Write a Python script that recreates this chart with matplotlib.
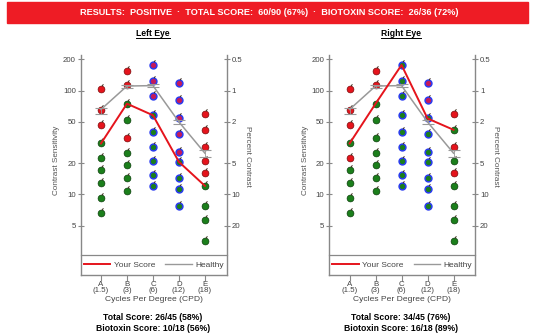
import numpy as np
import matplotlib
matplotlib.use('Agg')
import matplotlib.pyplot as plt
from matplotlib.path import Path
from matplotlib.lines import Line2D
from matplotlib.patches import Rectangle

plt.rcParams['font.family'] = ['Liberation Sans', 'DejaVu Sans']

# spatial frequency columns
columns = ['A', 'B', 'C', 'D', 'E']
cpd = ['1.5', '3', '6', '12', '18']
biotoxin_cols = ['C', 'D']

# contrast sensitivity of each patch in a column (top to bottom)
levels = {
    'A': [103, 65, 47, 31, 22.3, 17.1, 12.8, 9.2, 6.7],
    'B': [155, 113, 75, 52, 35, 25.3, 19.4, 14.5, 10.7],
    'C': [177, 124, 88, 58, 40, 28.5, 21.2, 15.4, 12.1],
    'D': [118, 81.5, 54, 38, 25.8, 20.6, 14.5, 11.3, 7.8],
    'E': [60, 42, 28.5, 21.2, 16.2, 12.1, 7.8, 5.7, 3.55],
}

# 1 = patch seen (green), 0 = missed (red)
left_seen = {
    'A': [0, 0, 0, 1, 1, 1, 1, 1, 1],
    'B': [0, 0, 1, 1, 0, 1, 1, 1, 1],
    'C': [0, 0, 0, 1, 1, 1, 1, 1, 1],
    'D': [0, 0, 0, 0, 0, 1, 1, 1, 1],
    'E': [0, 0, 0, 0, 0, 1, 1, 1, 1],
}
right_seen = {
    'A': [0, 0, 0, 1, 0, 1, 1, 1, 1],
    'B': [0, 0, 1, 1, 1, 1, 1, 1, 1],
    'C': [1, 1, 1, 1, 1, 1, 1, 1, 1],
    'D': [0, 0, 1, 1, 1, 1, 1, 1, 1],
    'E': [0, 1, 0, 1, 0, 1, 1, 1, 1],
}

left_score = [31, 75, 58, 20.6, 12.1]
right_score = [31, 75, 177, 54, 42]

healthy = [66, 111, 112, 50, 25]
healthy_lo = [60, 107, 108, 48, 23]
healthy_hi = [68, 114, 116, 52, 27]

banner = 'RESULTS:  POSITIVE  \u00b7  TOTAL SCORE:  60/90 (67%)  \u00b7  BIOTOXIN SCORE:  26/36 (72%)'
left_text = ['Total Score: 26/45 (58%)', 'Biotoxin Score: 10/18 (56%)']
right_text = ['Total Score: 34/45 (76%)', 'Biotoxin Score: 16/18 (89%)']

cs_ticks = [200, 100, 50, 20, 10, 5]
pct_labels = ['0.5', '1', '2', '5', '10', '20']

RED = '#e5141c'
GREEN = '#1b7f1b'
BLUE = '#2a3cf0'
GRAY = '#999999'
AXC = '#888888'
TXT = '#444444'

# little "stem" drawn at the upper right of every dot
stem = Path([(-1.5, -1.5), (0.15, 0.95), (0.55, 1.5)],
            [Path.MOVETO, Path.MOVETO, Path.LINETO])

W, H = 535, 336
fig = plt.figure(figsize=(W / 100, H / 100), dpi=100)

fig.patches.append(Rectangle((7 / W, 1 - 22.5 / H), 521 / W, 20.5 / H,
                             transform=fig.transFigure, color='#ee1c25', zorder=0))
fig.text(0.503, 1 - 12.5 / H, banner, color='white', fontsize=6.6,
         fontweight='bold', ha='center', va='center')


def draw_eye(x0, seen, score, title, footer, xc):
    ax = fig.add_axes([x0 / W, 1 - 275 / H, 145.8 / W, 220 / H])
    ax.set_yscale('log')
    ax.set_ylim(1.674, 221)
    ax.set_xlim(-0.78, 4.83)
    xs = np.arange(len(columns))

    for i, c in enumerate(columns):
        for v, s in zip(levels[c], seen[c]):
            if c in biotoxin_cols:
                fill = GREEN if s else '#c41a5a'
                edge, ew = BLUE, 1.1
            else:
                fill = GREEN if s else RED
                edge, ew = ('#0b3f0b' if s else '#7a0a0a'), 0.5
            ax.plot(i, v, 'o', ms=4.9, mfc=fill, mec=edge, mew=ew, zorder=3)
            ax.plot(i, v, marker=stem, ms=7.5, mfc='none', mec='#3a2a1a', mew=0.7,
                    linestyle='none', zorder=3)

    yerr = [np.array(healthy) - np.array(healthy_lo), np.array(healthy_hi) - np.array(healthy)]
    ax.errorbar(xs, healthy, yerr=yerr, color=GRAY, lw=1.1, elinewidth=0.6,
                capsize=4, capthick=0.8, zorder=4)
    ax.plot(xs, score, color=RED, lw=1.4, zorder=5)

    for sp in ['left', 'right', 'bottom']:
        ax.spines[sp].set_color(AXC)
        ax.spines[sp].set_linewidth(1.0)
    ax.spines['top'].set_visible(False)

    ax.set_yticks(cs_ticks)
    ax.set_yticklabels([str(t) for t in cs_ticks])
    ax.yaxis.set_minor_locator(matplotlib.ticker.NullLocator())
    ax.tick_params(axis='y', direction='inout', length=5, width=0.8, color=AXC,
                   labelsize=5.6, labelcolor=TXT, pad=1)
    ax.set_xticks(xs)
    ax.set_xticklabels([f'{c}\n({p})' for c, p in zip(columns, cpd)], linespacing=0.85)
    ax.tick_params(axis='x', direction='out', length=4, width=0.8, color=AXC,
                   labelsize=5.7, labelcolor=TXT, pad=0.5)
    ax.set_xlabel('Cycles Per Degree (CPD)', fontsize=6.1, color=TXT, va='center')
    ax.xaxis.set_label_coords(0.5, -0.112)
    ax.set_ylabel('Contrast Sensitivity', fontsize=5.9, color='#555555', va='center')
    ax.yaxis.set_label_coords(-0.165, 0.52)

    ax2 = ax.twinx()
    ax2.set_yscale('log')
    ax2.set_ylim(ax.get_ylim())
    ax2.set_yticks(cs_ticks)
    ax2.set_yticklabels(pct_labels)
    ax2.yaxis.set_minor_locator(matplotlib.ticker.NullLocator())
    ax2.tick_params(axis='y', direction='inout', length=5, width=0.8, color=AXC,
                    labelsize=5.6, labelcolor=TXT, pad=1)
    for sp in ax2.spines.values():
        sp.set_visible(False)
    ax2.set_ylabel('Percent Contrast', fontsize=5.9, color='#555555', rotation=270,
                   va='center')
    ax2.yaxis.set_label_coords(1.143, 0.54)

    # legend strip at the bottom of the plot box
    ax.plot([0, 1], [20 / 220, 20 / 220], transform=ax.transAxes, color=AXC,
            lw=0.9, clip_on=False, zorder=6)
    handles = [Line2D([], [], color=RED, lw=1.4), Line2D([], [], color=GRAY, lw=1.0)]
    ax.legend(handles, ['Your Score', 'Healthy'], loc='center',
              bbox_to_anchor=(0.5, 10 / 220), ncol=2, frameon=False, fontsize=6,
              handlelength=3.2, handletextpad=0.4, columnspacing=1.2,
              borderpad=0, labelcolor=TXT)

    # underlined panel title
    t = fig.text(xc / W, 1 - 33 / H, title, fontsize=6.2, fontweight='bold',
                 ha='center', va='center')
    bb = t.get_window_extent(fig.canvas.get_renderer())
    fig.add_artist(Line2D([bb.x0 / fig.bbox.width, bb.x1 / fig.bbox.width],
                          [bb.y0 / fig.bbox.height - 0.8 / H] * 2,
                          color='black', lw=0.7))

    fig.text(xc / W, 1 - 317 / H, footer[0], fontsize=6.2, fontweight='bold',
             ha='center', va='center')
    fig.text(xc / W, 1 - 328.5 / H, footer[1], fontsize=6.2, fontweight='bold',
             ha='center', va='center')
    return ax


draw_eye(80.7, left_seen, left_score, 'Left Eye', left_text, 153)
draw_eye(329.3, right_seen, right_score, 'Right Eye', right_text, 401)

fig.savefig('out.png', dpi=100)
